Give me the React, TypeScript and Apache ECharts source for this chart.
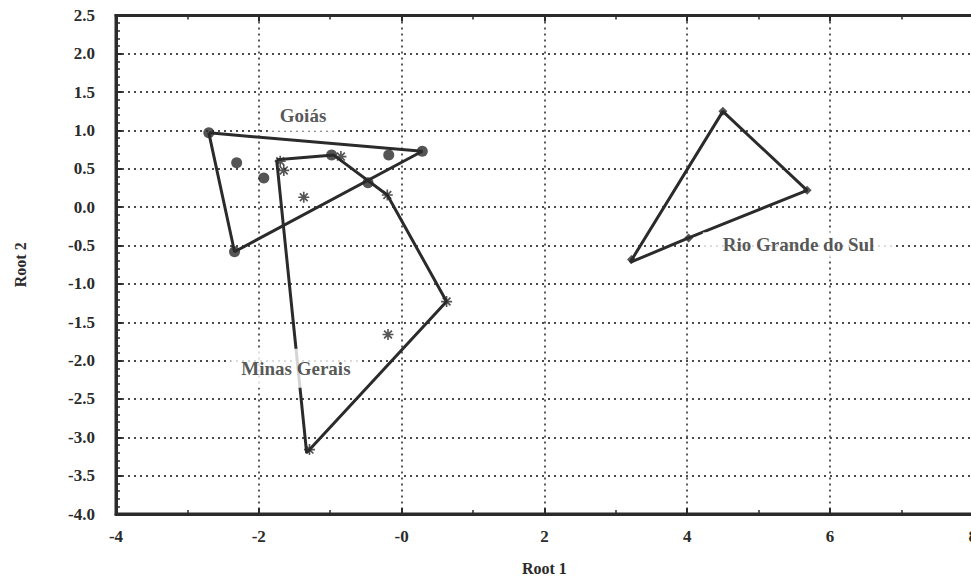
import React, { useEffect, useRef } from "react";
import * as echarts from "echarts";

// ---- data ----
const xTickLabels = ["-4", "-2", "-0", "2", "4", "6", "8"];
const yTickLabels = ["-4.0", "-3.5", "-3.0", "-2.5", "-2.0", "-1.5", "-1.0", "-0.5", "0.0", "0.5", "1.0", "1.5", "2.0", "2.5"];

const goiasPoints = [
  [-2.7, 0.97], [0.29, 0.73], [-2.34, -0.58], [-2.31, 0.58],
  [-1.93, 0.38], [-0.98, 0.68], [-0.47, 0.32], [-0.18, 0.68],
];
const goiasHull = [[-2.7, 0.97], [0.29, 0.73], [-2.34, -0.58], [-2.7, 0.97]];

const minasPoints = [
  [-1.7, 0.6], [-1.65, 0.48], [-0.85, 0.66], [-1.37, 0.13],
  [-0.2, 0.16], [0.63, -1.23], [-0.19, -1.66], [-1.29, -3.16],
];
const minasHull = [[-1.75, 0.62], [-0.95, 0.68], [-0.2, 0.16], [0.63, -1.23], [-1.33, -3.2], [-1.75, 0.62]];

const rioPoints = [[4.5, 1.25], [5.68, 0.22], [4.02, -0.4], [3.22, -0.68]];
const rioHull = [[3.2, -0.72], [4.5, 1.25], [5.68, 0.22], [4.02, -0.4], [3.2, -0.72]];

const groupNames = ["Goiás", "Minas Gerais", "Rio Grande do Sul"];
const groupLabelPos = [[-1.38, 1.19], [-1.48, -2.1], [5.56, -0.49]];

const X_MIN = -4, X_MAX = 8, X_STEP = 2;
const Y_MIN = -4, Y_MAX = 2.5, Y_STEP = 0.5;

const INK = "#2b2b2b";
const FONT = "Liberation Serif, Times New Roman, serif";

const asterisk =
  "path://M4.25,0h1.5v10h-1.5z M0,4.25h10v1.5h-10z M0.9,2L2,0.9L9.1,8L8,9.1z M9.1,2L2,9.1L0.9,8L8,0.9z";

const labelPadding = [[6, 12], [10, 11], [3, 20]];

export default function App() {
  const ref = useRef<HTMLDivElement>(null);
  useEffect(() => {
    if (!ref.current) return;
    const chart = echarts.init(ref.current, null, { renderer: "svg" });
    const grid = { type: [2, 4] as any, color: "#4a4a4a", width: 1.8 };
    const axisCommon = {
      type: "value" as const,
      axisLine: { show: true, onZero: false, lineStyle: { color: INK, width: 3 } },
      axisTick: { show: true, inside: true, length: 6, lineStyle: { color: INK, width: 2 } },
      minorTick: { show: true, length: 4, lineStyle: { color: INK, width: 1.5 } },
    };
    const labelStyle = { fontFamily: FONT, fontWeight: "bold" as const, fontSize: 17, color: INK };
    chart.setOption({
      animation: false,
      backgroundColor: "#fff",
      grid: { left: 116, top: 15.5, right: 4.5, bottom: 63.5, show: true, borderColor: INK, borderWidth: 3 },
      xAxis: [
        {
          ...axisCommon,
          min: X_MIN, max: X_MAX, interval: X_STEP, position: "bottom",
          minorTick: { ...axisCommon.minorTick, splitNumber: 2 },
          splitLine: { show: true, lineStyle: grid },
          axisLabel: {
            ...labelStyle, margin: 14,
            formatter: (v: number) => xTickLabels[Math.round((v - X_MIN) / X_STEP)] ?? "",
          },
          name: "Root 1", nameLocation: "middle", nameGap: 46,
          nameTextStyle: { ...labelStyle, fontSize: 16 },
        },
        {
          ...axisCommon,
          min: X_MIN, max: X_MAX, interval: X_STEP, position: "top",
          minorTick: { ...axisCommon.minorTick, splitNumber: 2 },
          splitLine: { show: false },
          axisLabel: { show: false },
        },
      ],
      yAxis: {
        ...axisCommon,
        min: Y_MIN, max: Y_MAX, interval: Y_STEP,
        minorTick: { ...axisCommon.minorTick, splitNumber: 5 },
        splitLine: { show: true, lineStyle: grid },
        axisLabel: {
          ...labelStyle, margin: 21,
          formatter: (v: number) => yTickLabels[Math.round((v - Y_MIN) / Y_STEP)] ?? "",
        },
        name: "Root 2", nameLocation: "middle", nameGap: 88, nameRotate: 90,
        nameTextStyle: { ...labelStyle, fontSize: 16 },
      },
      series: [
        { type: "line", data: goiasHull, symbol: "none", lineStyle: { color: INK, width: 3 }, z: 2 },
        { type: "line", data: minasHull, symbol: "none", lineStyle: { color: INK, width: 3 }, z: 2 },
        { type: "line", data: rioHull, symbol: "none", lineStyle: { color: INK, width: 3 }, z: 2 },
        { type: "scatter", data: goiasPoints, symbol: "circle", symbolSize: 11, itemStyle: { color: INK }, z: 3 },
        { type: "scatter", data: minasPoints, symbol: asterisk, symbolSize: 11, itemStyle: { color: INK }, z: 3 },
        { type: "scatter", data: rioPoints, symbol: "diamond", symbolSize: 9, itemStyle: { color: INK }, z: 3 },
        {
          type: "scatter", z: 10, symbolSize: 1, itemStyle: { color: "rgba(0,0,0,0)" },
          data: groupLabelPos.map((p, i) => ({
            value: p, name: groupNames[i], label: { padding: labelPadding[i] },
          })),
          label: {
            show: true, position: "inside", formatter: (p: any) => p.name,
            fontFamily: FONT, fontWeight: "bold", fontSize: 19, color: INK,
            backgroundColor: "#fff",
          },
        },
      ],
    });
    return () => chart.dispose();
  }, []);
  return <div ref={ref} style={{ position: "fixed", left: 0, top: 0, width: 980, height: 581 }} />;
}
